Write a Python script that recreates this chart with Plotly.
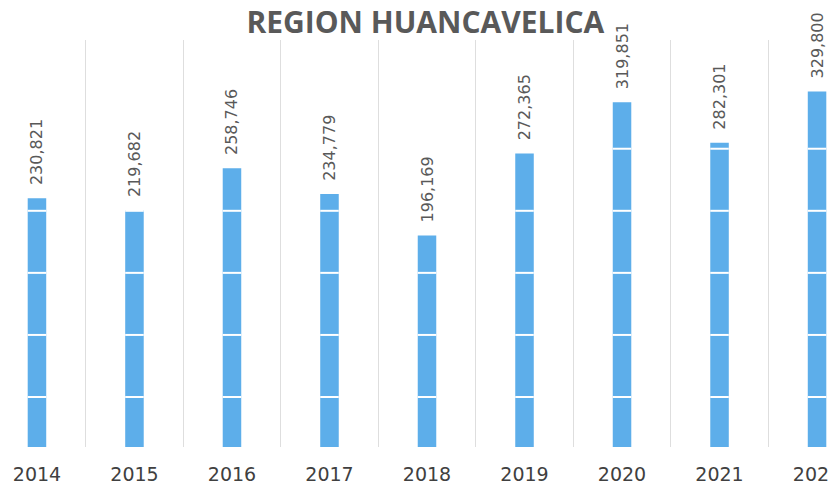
import plotly.graph_objects as go

# data
years = ["2014", "2015", "2016", "2017", "2018", "2019", "2020", "2021", "2022"]
values = [230821, 219682, 258746, 234779, 196169, 272365, 319851, 282301, 329800]

# faint gridlines of the original (only visible across the bars)
grid_step = 57600
grid_start = 46400
bar_w = 0.19

fig = go.Figure()
fig.add_trace(go.Bar(
    x=years,
    y=values,
    width=bar_w,
    marker=dict(color="#5DAEEA", line=dict(width=0)),
    texttemplate="\u00a0\u00a0%{y:,}",
    textposition="outside",
    textangle=-90,
    constraintext="none",
    textfont=dict(family="DejaVu Sans", size=16, color="#595959"),
    cliponaxis=False,
))

# white lines over each bar only
for i, v in enumerate(values):
    g = grid_start
    while g < v:
        fig.add_shape(type="line", xref="x", yref="y",
                      x0=i - bar_w / 2, x1=i + bar_w / 2, y0=g, y1=g,
                      line=dict(color="white", width=2), layer="above")
        g += grid_step

fig.update_layout(
    width=838,
    height=484,
    margin=dict(l=0, r=0, t=32, b=45),
    paper_bgcolor="white",
    plot_bgcolor="white",
    showlegend=False,
    title=dict(
        text="<b>REGION HUANCAVELICA</b>",
        x=0.498,
        xanchor="center",
        y=0.97,
        yanchor="middle",
        font=dict(family="Open Sans", size=30, color="#595959"),
    ),
)

# category separators like the excel chart
fig.update_xaxes(
    type="category",
    range=[-0.297, 8.297],
    showgrid=True,
    tickson="boundaries",
    gridcolor="#DEDEDE",
    gridwidth=1,
    showline=False,
    ticks="",
    ticklabelstandoff=14,
    tickfont=dict(family="DejaVu Sans", size=19, color="#404040"),
)

fig.update_yaxes(
    range=[0, 377700],
    showgrid=False,
    showticklabels=False,
    zeroline=False,
    showline=False,
)

fig.write_html("out.html")
